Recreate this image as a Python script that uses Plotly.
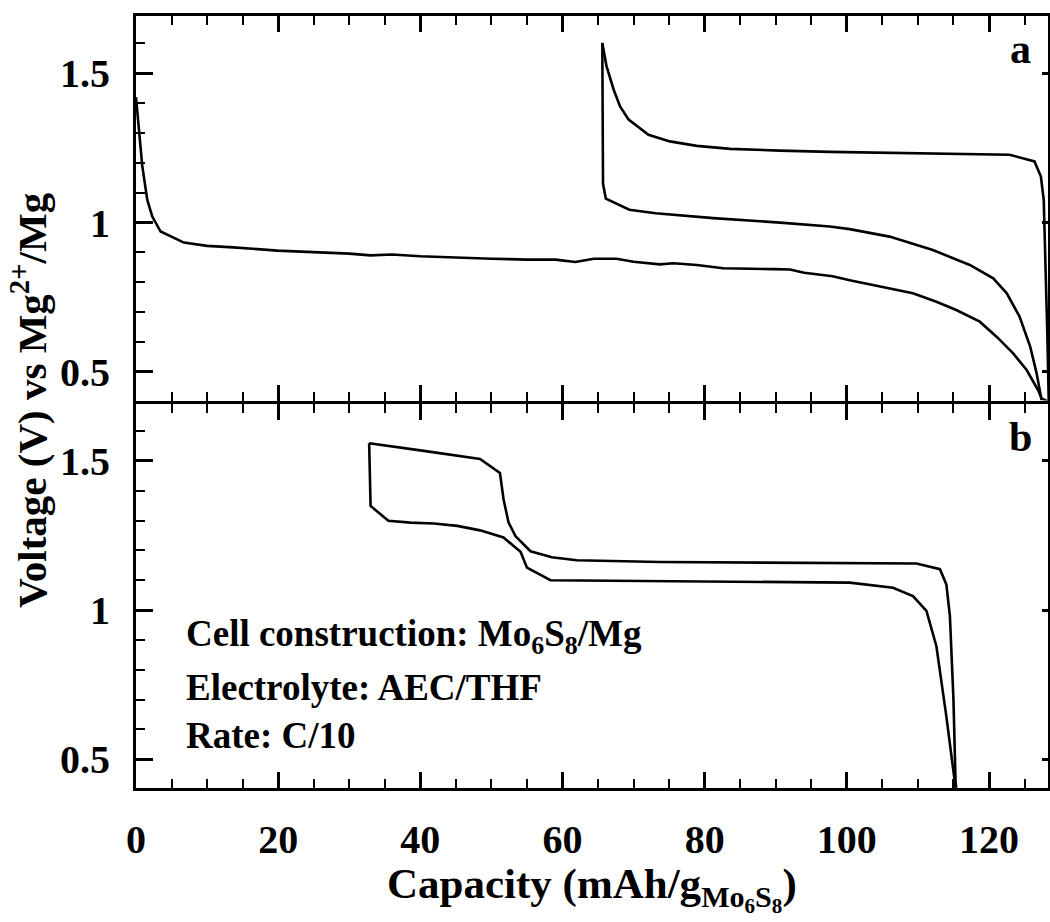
import plotly.graph_objects as go

# ---------------- data ----------------
# panel a
a_dis1_x = [0, 0.41, 0.88, 1.59, 2.29, 3.46, 6.73, 10.0, 13.7, 19.9, 23.1, 27, 30, 33, 36, 40, 45, 50, 55, 59,
            61.8, 64.4, 67.6, 70.0, 73.7, 75.6, 78.9, 82.6, 89.7, 92, 94, 98, 100.4, 105.1, 109.3, 112.6, 115.4,
            118.7, 121.1, 123.4, 125.3, 126.9, 127.4, 128.3]
a_dis1_v = [1.42, 1.30, 1.19, 1.076, 1.02, 0.97, 0.933, 0.922, 0.917, 0.906, 0.903, 0.899, 0.896, 0.890, 0.893,
            0.887, 0.882, 0.879, 0.876, 0.876, 0.868, 0.879, 0.879, 0.869, 0.860, 0.864, 0.858, 0.847, 0.844,
            0.843, 0.832, 0.820, 0.807, 0.785, 0.763, 0.735, 0.707, 0.668, 0.617, 0.562, 0.506, 0.439, 0.411, 0.40]

a_chg_x = [128.3, 128.4, 128.2, 128.0, 127.7, 127.3, 126.4, 122.9, 110, 100.4, 97.6, 90.6, 83.6, 78.9, 75.1,
           72.1, 69.3, 68.1, 67.2, 66.2, 65.6]
a_chg_v = [0.40, 0.405, 0.63, 0.852, 1.076, 1.154, 1.205, 1.227, 1.231, 1.235, 1.237, 1.241, 1.247, 1.257, 1.272,
           1.294, 1.345, 1.389, 1.445, 1.523, 1.602]

a_dis2_x = [65.6, 65.7, 66.1, 69.4, 73.1, 81.2, 90.6, 97.6, 100.4, 106.0, 112.1, 117.3, 120.6, 122.5, 124.3,
            125.8, 126.7, 127.4]
a_dis2_v = [1.602, 1.13, 1.08, 1.043, 1.031, 1.015, 1.0, 0.987, 0.978, 0.953, 0.908, 0.858, 0.813, 0.763, 0.685,
            0.584, 0.495, 0.405]

# panel b
b_dis_x = [32.8, 33.0, 35.5, 38.6, 41.9, 45.2, 48.4, 51.7, 54.1, 55.0, 58.3, 73.7, 90, 100.4, 106.5, 109.3,
           111.2, 112.6, 114.0, 115.3]
b_dis_v = [1.559, 1.349, 1.299, 1.293, 1.290, 1.282, 1.267, 1.243, 1.195, 1.142, 1.100, 1.097, 1.095, 1.092,
           1.075, 1.047, 0.997, 0.879, 0.644, 0.404]

b_chg_x = [115.4, 115.3, 115.0, 114.5, 114.0, 113.1, 109.8, 100.4, 73.7, 62.0, 58.5, 55.5, 53.4, 52.4, 51.7,
           51.2, 48.4, 40, 32.8]
b_chg_v = [0.404, 0.42, 0.70, 0.98, 1.086, 1.137, 1.156, 1.157, 1.161, 1.167, 1.177, 1.197, 1.247, 1.294,
           1.372, 1.459, 1.506, 1.535, 1.559]

x_ticks = [0, 20, 40, 60, 80, 100, 120]
y_ticks = [0.5, 1.0, 1.5]
x_minor_step = 5
y_minor_step = 0.1

panel_labels = ["a", "b"]
info_lines = ["Cell construction: Mo<sub>6</sub>S<sub>8</sub>/Mg",
              "Electrolyte: AEC/THF",
              "Rate: C/10"]
y_title = "Voltage (V) vs Mg<sup>2+</sup>/Mg"
x_title = "Capacity (mAh/g<sub>Mo<sub>6</sub>S<sub>8</sub></sub>)"

# ---------------- figure ----------------
FONT = "Liberation Serif"
LW = 2.6
XR = [0, 128.3]
YR = [0.404, 1.692]
GAP = 3 / 772          # keeps the two shared border lines on top of each other
TOP_DOM = [0.5 + GAP / 2, 1]
BOT_DOM = [0, 0.5 - GAP / 2]


def tf(size):
    return dict(family=FONT, size=size, color="black", weight="bold")


fig = go.Figure()
for xs, ys in [(a_dis1_x, a_dis1_v), (a_chg_x, a_chg_v), (a_dis2_x, a_dis2_v)]:
    fig.add_trace(go.Scatter(x=xs, y=ys, mode="lines", line=dict(color="black", width=LW),
                             xaxis="x", yaxis="y", showlegend=False, hoverinfo="skip"))
for xs, ys in [(b_dis_x, b_dis_v), (b_chg_x, b_chg_v)]:
    fig.add_trace(go.Scatter(x=xs, y=ys, mode="lines", line=dict(color="black", width=LW),
                             xaxis="x2", yaxis="y2", showlegend=False, hoverinfo="skip"))
# invisible traces so the extra tick-only axes get their subplots
for xa, ya, xs, ys in [("x", "y3", a_dis1_x, a_dis1_v), ("x2", "y4", b_dis_x, b_dis_v),
                       ("x3", "y", a_dis1_x, a_dis1_v), ("x4", "y2", b_dis_x, b_dis_v)]:
    fig.add_trace(go.Scatter(x=xs[:1], y=ys[:1], mode="markers", marker=dict(opacity=0),
                             xaxis=xa, yaxis=ya, showlegend=False, hoverinfo="skip"))

xmaj = dict(range=XR, ticks="inside", ticklen=16, tickwidth=2.5, tickcolor="black",
            tickmode="linear", tick0=x_ticks[0], dtick=x_ticks[1] - x_ticks[0],
            showgrid=False, zeroline=False, automargin=False,
            minor=dict(tickmode="linear", tick0=0, dtick=x_minor_step, ticks="inside", ticklen=9,
                       tickwidth=2, tickcolor="black", showgrid=False),
            tickfont=tf(40))
ymaj = dict(range=YR, ticks="inside", ticklen=17, tickwidth=2.5, tickcolor="black",
            tickmode="linear", tick0=y_ticks[0], dtick=y_ticks[1] - y_ticks[0],
            showgrid=False, zeroline=False, automargin=False,
            minor=dict(tickmode="linear", tick0=0, dtick=y_minor_step, ticks="inside", ticklen=9,
                       tickwidth=2, tickcolor="black", showgrid=False),
            tickfont=tf(40), ticklabelstandoff=15)
yright = dict(range=YR, side="right", showline=False, ticks="inside", ticklen=6, tickwidth=2.5,
              tickcolor="black", tickmode="linear", tick0=y_ticks[0], dtick=y_ticks[1] - y_ticks[0],
              showticklabels=False, showgrid=False, zeroline=False, automargin=False)
xtop = dict(xmaj, side="top", showline=False, showticklabels=False)
frame = dict(showline=True, linewidth=3, linecolor="black", mirror=True)

fig.update_layout(
    template="none",
    width=1050, height=922,
    margin=dict(l=136, r=2, t=16, b=134, autoexpand=False),
    paper_bgcolor="white", plot_bgcolor="white",
    xaxis=dict(xmaj, anchor="y", showticklabels=False, **frame),
    xaxis2=dict(xmaj, anchor="y2", showticklabels=True, ticklabelstandoff=14, **frame),
    xaxis3=dict(xtop, overlaying="x", anchor="y"),
    xaxis4=dict(xtop, overlaying="x2", anchor="y2"),
    yaxis=dict(ymaj, domain=TOP_DOM, anchor="x", **frame),
    yaxis2=dict(ymaj, domain=BOT_DOM, anchor="x2", **frame),
    yaxis3=dict(yright, overlaying="y", anchor="x"),
    yaxis4=dict(yright, overlaying="y2", anchor="x2"),
)

ann = []
ann.append(dict(text=y_title, xref="paper", yref="paper",
                x=-0.118, y=0.503, xanchor="center", yanchor="middle", textangle=-90, showarrow=False,
                font=tf(41)))
ann.append(dict(text=x_title, xref="paper", yref="paper",
                x=0.5, y=-0.131, xanchor="center", yanchor="middle", showarrow=False,
                font=tf(43)))
ann.append(dict(text=panel_labels[0], xref="x", yref="y", x=124.4, y=1.58, xanchor="center", yanchor="middle",
                showarrow=False, font=tf(42)))
ann.append(dict(text=panel_labels[1], xref="x2", yref="y2", x=124.4, y=1.58, xanchor="center", yanchor="middle",
                showarrow=False, font=tf(42)))
for line, yv in zip(info_lines, [0.91, 0.742, 0.581]):
    ann.append(dict(text=line, xref="x2", yref="y2", x=6.7, y=yv, xanchor="left", yanchor="middle",
                    showarrow=False, font=tf(37)))
fig.update_layout(annotations=ann)

# the page would otherwise add an 8 px body margin and scrollbars
fig.write_html("out.html",
               config={"displayModeBar": False},
               post_script="document.documentElement.style.overflow='hidden';"
                           "document.body.style.margin='0';document.body.style.overflow='hidden';")
